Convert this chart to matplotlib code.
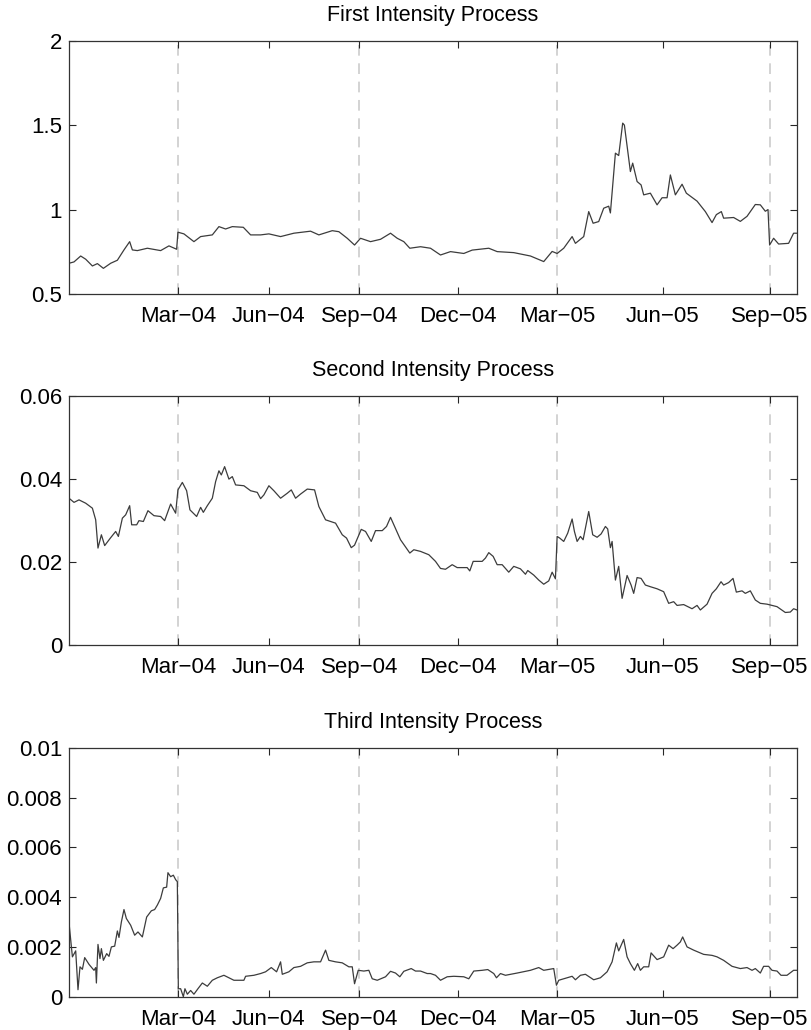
import matplotlib
matplotlib.use("Agg")
import matplotlib.pyplot as plt

plt.rcParams['font.family'] = ['Liberation Sans', 'DejaVu Sans']

# ---------------- data ----------------
tick_pos = [109, 200, 290.4, 389.4, 488.4, 594, 701]
tick_labels = ["Mar\u221204", "Jun\u221204", "Sep\u221204", "Dec\u221204",
               "Mar\u221205", "Jun\u221205", "Sep\u221205"]
vline_pos = [109, 290.4, 488.4, 701]
x_end = 728.4

titles = ["First Intensity Process", "Second Intensity Process", "Third Intensity Process"]

x1 = [0, 5, 11.7, 16.7, 23.4, 28.4, 34.4, 41.7, 48.4, 55, 60.7, 63.4, 68.4, 78.4, 91.7,
      100, 107.7, 109, 115, 125, 131.7, 143.4, 150, 156.7, 163.4, 174.4, 181.7, 191.7,
      200, 211.7, 225, 241.7, 250, 263.4, 270, 278.4, 285.7, 291.7, 301.7, 311.7, 321.7,
      328.4, 335, 341, 351.7, 361.7, 371.7, 381.7, 395, 403.4, 420, 428.4, 445, 461.7,
      475, 483.4, 488.4, 495, 503.4, 506.7, 515, 520, 524.4, 530, 535, 540, 541.7,
      546.7, 550, 554, 555.7, 561.7, 564, 568.4, 572.4, 575, 581.7, 588.4, 593.4, 598.4,
      601.7, 606.7, 613.4, 617.7, 628.4, 636.7, 643.4, 647.7, 652.7, 655, 665, 671.7,
      678.4, 686.7, 691.7, 696.7, 699.4, 701, 705, 710, 720, 725, 728.4]
y1 = [0.682, 0.69, 0.725, 0.706, 0.666, 0.68, 0.652, 0.682, 0.70, 0.761, 0.81, 0.761,
      0.757, 0.771, 0.757, 0.785, 0.765, 0.866, 0.856, 0.81, 0.84, 0.85, 0.899, 0.885,
      0.899, 0.895, 0.85, 0.85, 0.856, 0.84, 0.86, 0.872, 0.85, 0.875, 0.869, 0.83, 0.79,
      0.83, 0.81, 0.824, 0.86, 0.83, 0.81, 0.771, 0.78, 0.771, 0.731, 0.751, 0.74, 0.76,
      0.771, 0.751, 0.745, 0.725, 0.692, 0.752, 0.74, 0.771, 0.84, 0.80, 0.84, 0.988,
      0.919, 0.929, 1.008, 1.02, 0.98, 1.334, 1.32, 1.512, 1.50, 1.225, 1.275, 1.166,
      1.146, 1.087, 1.097, 1.028, 1.07, 1.07, 1.205, 1.087, 1.15, 1.097, 1.05, 0.988,
      0.923, 0.97, 0.988, 0.949, 0.953, 0.93, 0.96, 1.03, 1.028, 0.99, 1.0, 0.79, 0.83,
      0.796, 0.80, 0.86, 0.86]

x2 = [0, 5, 10, 16.7, 23.4, 26.7, 29, 32.4, 35.7, 41.7, 46.7, 49.4, 53.4, 56.7, 60.7,
      62.7, 67.7, 70, 74.4, 79, 85, 91.7, 95.7, 101.7, 106.7, 109, 113.4, 117.7, 121,
      127.7, 131.7, 134.4, 138.4, 143.4, 146.7, 150, 152.4, 155.7, 160, 163.4, 166.7,
      175, 181.7, 188.4, 191.7, 195, 200, 205, 211.7, 218.4, 222.4, 226.7, 231.7, 238.4,
      245.7, 250, 256.7, 266.7, 273.4, 277.7, 282.4, 285.7, 292.4, 296.7, 302.4, 306.7,
      313.4, 317.7, 321.7, 325, 331.7, 341, 345, 351.7, 360, 366.7, 371.7, 376.7, 383.4,
      388.4, 398.4, 401, 404.4, 413.4, 416.7, 420, 424.4, 428.4, 433.4, 440, 445, 451.7,
      456.7, 459, 465, 470, 475, 480, 483.4, 486.7, 488.4, 491, 495, 499, 503.4, 505.7,
      508.4, 511.7, 514.4, 516.7, 520, 524, 528.4, 532.4, 536.7, 539, 541.7, 543.4,
      546.7, 550, 553.4, 558.4, 562.4, 565, 568.4, 572.4, 576.7, 581.7, 588.4, 595, 600,
      605, 608.4, 615, 623.4, 628.4, 631.7, 638.4, 643.4, 647.7, 652.4, 655, 660, 664.4,
      667.7, 673.4, 676.7, 681.7, 686.7, 691.7, 698.4, 701.7, 708.4, 716.7, 721.7, 725,
      728.4]
y2 = [0.0354, 0.0344, 0.035, 0.0342, 0.033, 0.0302, 0.0234, 0.0266, 0.024, 0.0259,
      0.0274, 0.0262, 0.0306, 0.0314, 0.0336, 0.029, 0.029, 0.030, 0.0298, 0.0324,
      0.0312, 0.031, 0.030, 0.034, 0.0318, 0.0374, 0.0392, 0.0372, 0.0326, 0.031,
      0.0332, 0.032, 0.0336, 0.0354, 0.0394, 0.042, 0.041, 0.043, 0.040, 0.0406, 0.0386,
      0.0384, 0.0372, 0.0368, 0.0353, 0.0362, 0.0384, 0.0372, 0.0354, 0.0366, 0.0374,
      0.0354, 0.0364, 0.0376, 0.0374, 0.0334, 0.0302, 0.0294, 0.0266, 0.0258, 0.0235,
      0.0241, 0.0279, 0.0274, 0.025, 0.0276, 0.0276, 0.0286, 0.0308, 0.029, 0.0254,
      0.0222, 0.023, 0.0226, 0.0218, 0.0202, 0.0185, 0.0183, 0.0194, 0.0187, 0.0187,
      0.0179, 0.0202, 0.0202, 0.021, 0.0223, 0.0214, 0.0194, 0.0194, 0.0176, 0.019,
      0.0184, 0.0171, 0.018, 0.0169, 0.0157, 0.0147, 0.0155, 0.0176, 0.016, 0.0262,
      0.0258, 0.025, 0.027, 0.0304, 0.0274, 0.025, 0.0262, 0.0254, 0.0282, 0.0322,
      0.0266, 0.026, 0.0268, 0.0286, 0.028, 0.0235, 0.025, 0.0157, 0.019, 0.0113,
      0.0168, 0.0145, 0.0125, 0.0163, 0.0161, 0.0145, 0.0141, 0.0136, 0.0129, 0.0101,
      0.0105, 0.0096, 0.0098, 0.0088, 0.0096, 0.0085, 0.0099, 0.0125, 0.0136, 0.0153,
      0.0145, 0.0151, 0.0161, 0.0128, 0.0131, 0.0125, 0.0131, 0.0109, 0.0101, 0.0099,
      0.0097, 0.0093, 0.0079, 0.008, 0.0088, 0.0085]

x3 = [0, 3.4, 6.7, 9, 11, 13.4, 15.7, 20, 25, 26.7, 27.4, 29, 31, 32.4, 34.4, 37.7, 40,
      42.4, 45.7, 48.4, 50, 52.4, 55, 57.4, 61.7, 65.7, 69, 73.4, 77.7, 82.4, 85.7,
      88.4, 91.7, 94.4, 97.7, 99, 101.7, 104.4, 106.7, 108.4, 109.4, 111.7, 114.4, 116,
      118.4, 121.7, 125, 129, 133.4, 138.4, 143.4, 148.4, 155, 160, 165, 175, 176.7,
      185, 191.7, 196.7, 202.4, 207.7, 211.7, 213.4, 220, 225, 231.7, 238.4, 245, 251.7,
      256.7, 260, 266.7, 273.4, 280, 283.4, 285.7, 289.4, 295, 300, 303.4, 308.4, 316.7,
      321.7, 326.7, 331, 335, 342.4, 346.7, 351.7, 358.4, 361.7, 366.7, 371.7, 378.4,
      385, 395, 400, 405, 413.4, 419, 425, 427.7, 431.7, 436.7, 448.4, 461.7, 470, 475,
      485, 487.7, 490, 495, 503.4, 506.7, 511.7, 516.7, 525, 531.7, 538.4, 543.4, 547.7,
      550, 555, 558.4, 561.7, 565.7, 569, 571.7, 575, 580, 582.4, 588.4, 595, 600, 604.4,
      608.4, 611.7, 614, 618.4, 625, 635, 643.4, 648.4, 655, 663.4, 671.7, 678.4, 683.4,
      686.7, 691.7, 695, 700, 703.4, 708.4, 712.4, 718.4, 725, 728.4]
y3 = [0.00297, 0.0016, 0.00184, 0.00028, 0.0012, 0.0011, 0.00157, 0.0013, 0.00106,
      0.00117, 0.00055, 0.0021, 0.00153, 0.00193, 0.00146, 0.00173, 0.00162, 0.002,
      0.00203, 0.00264, 0.00238, 0.003, 0.0035, 0.00314, 0.00287, 0.00247, 0.0026,
      0.0024, 0.0032, 0.00345, 0.0035, 0.00368, 0.00395, 0.00437, 0.0044, 0.00498,
      0.00482, 0.00488, 0.0047, 0.00462, 0.00032, 0.00032, 0.0, 0.00032, 0.0001,
      0.00025, 0.0001, 0.00032, 0.00055, 0.00042, 0.00066, 0.00076, 0.00086, 0.00076,
      0.00066, 0.00066, 0.00082, 0.00086, 0.00093, 0.001, 0.00117, 0.001, 0.0014,
      0.0009, 0.001, 0.00117, 0.00122, 0.00136, 0.0014, 0.0014, 0.00187, 0.00146,
      0.0014, 0.00136, 0.0012, 0.0012, 0.00052, 0.00106, 0.00103, 0.00106, 0.00072,
      0.00066, 0.0008, 0.00102, 0.00095, 0.0008, 0.00102, 0.00113, 0.00103, 0.00103,
      0.00093, 0.00093, 0.00086, 0.00066, 0.0008, 0.00082, 0.0008, 0.00072, 0.00103,
      0.00106, 0.00109, 0.00093, 0.00076, 0.00093, 0.00086, 0.00095, 0.00106, 0.00117,
      0.00106, 0.00113, 0.00046, 0.00066, 0.00072, 0.00082, 0.00068, 0.00086, 0.0009,
      0.00068, 0.00076, 0.001, 0.0014, 0.00216, 0.00184, 0.0023, 0.0016, 0.00133,
      0.00106, 0.00133, 0.00106, 0.0012, 0.0012, 0.00176, 0.00149, 0.0016, 0.00207,
      0.00193, 0.00207, 0.0022, 0.0024, 0.002, 0.00187, 0.0017, 0.00166, 0.0016,
      0.00146, 0.00122, 0.00113, 0.00117, 0.00106, 0.00113, 0.00095, 0.00122, 0.00122,
      0.00106, 0.00103, 0.00086, 0.00086, 0.00106, 0.00106]

y1_ticks = [0.5, 1, 1.5, 2]
y1_labels = ["0.5", "1", "1.5", "2"]
y2_ticks = [0, 0.02, 0.04, 0.06]
y2_labels = ["0", "0.02", "0.04", "0.06"]
y3_ticks = [0, 0.002, 0.004, 0.006, 0.008, 0.01]
y3_labels = ["0", "0.002", "0.004", "0.006", "0.008", "0.01"]

# ---------------- figure ----------------
fig = plt.figure(figsize=(8.11, 10.30), dpi=100)
W, H = 811.0, 1030.0
left_px, right_px = 69, 797
boxes = [(40.7, 294.0), (396.0, 645.3), (747.7, 996.7)]

series = [(x1, y1, y1_ticks, y1_labels, (0.5, 2)),
          (x2, y2, y2_ticks, y2_labels, (0, 0.06)),
          (x3, y3, y3_ticks, y3_labels, (0, 0.01))]

for (top, bot), (xs, ys, yt, yl, ylim), title in zip(boxes, series, titles):
    ax = fig.add_axes([left_px / W, 1 - bot / H, (right_px - left_px) / W, (bot - top) / H])
    for v in vline_pos:
        ax.axvline(v, color='#c8c8c8', lw=1.1, dashes=(7, 5), zorder=1)
    ax.plot(xs, ys, color='#3c3c3c', lw=0.9, zorder=2)
    ax.set_xlim(0, x_end)
    ax.set_ylim(*ylim)
    ax.set_xticks(tick_pos)
    ax.set_xticklabels(tick_labels)
    ax.set_yticks(yt)
    ax.set_yticklabels(yl)
    ax.tick_params(direction='in', length=5, width=0.8, top=True, right=True,
                   labelsize=16, colors='#262626', labelcolor='black', pad=5)
    ax.tick_params(axis='x', pad=8.5)
    for s in ax.spines.values():
        s.set_color('#333333')
        s.set_linewidth(0.9)
    ax.set_title(title, fontsize=15.5, pad=14.5)

fig.savefig("out.png", dpi=100)
